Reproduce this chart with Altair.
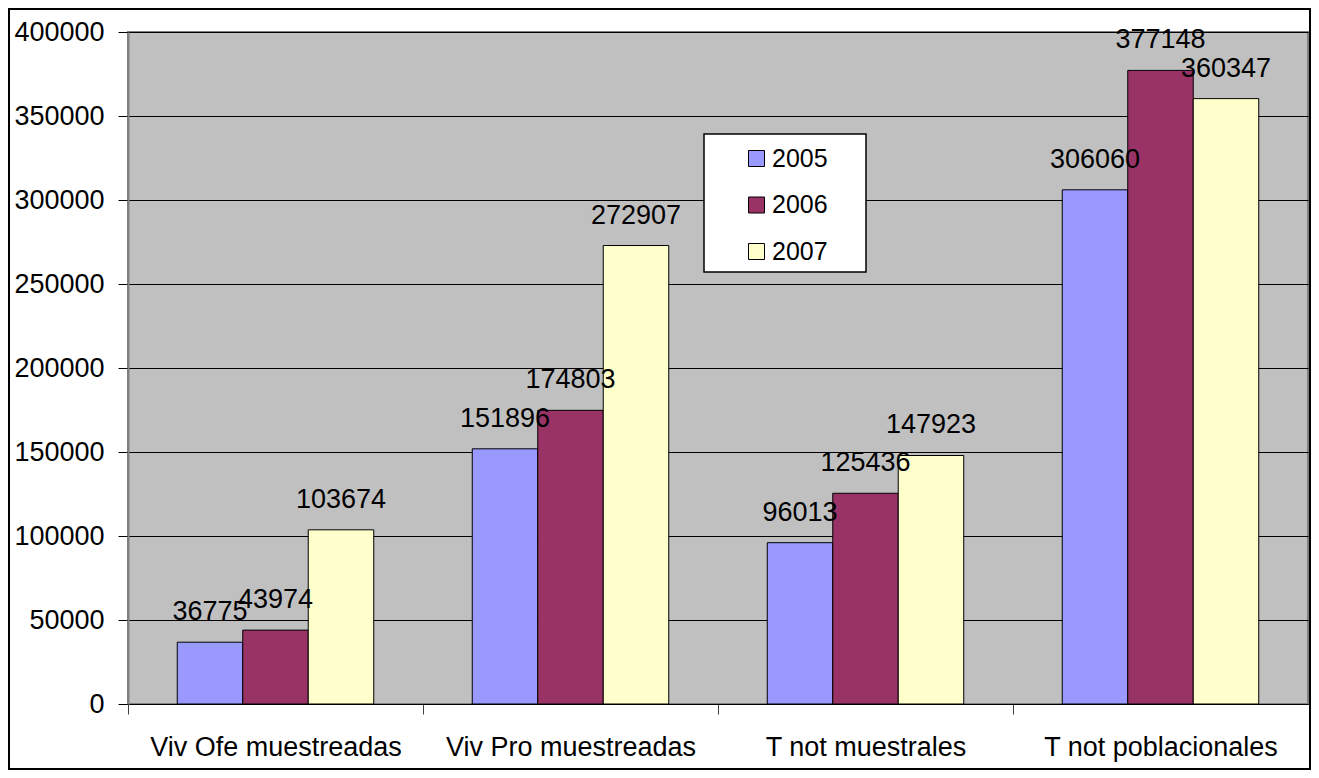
import altair as alt
import pandas as pd

categories = ["Viv Ofe muestreadas", "Viv Pro muestreadas", "T not muestrales", "T not poblacionales"]
years = ["2005", "2006", "2007"]
v2005 = [36775, 151896, 96013, 306060]
v2006 = [43974, 174803, 125436, 377148]
v2007 = [103674, 272907, 147923, 360347]
colors = ["#9999FF", "#993366", "#FFFFCC"]

rows = []
for i, c in enumerate(categories):
    for y, vals in zip(years, [v2005, v2006, v2007]):
        rows.append({"cat": c, "year": y, "value": vals[i]})
df = pd.DataFrame(rows)

FONT = "Liberation Sans"
W, H = 1180, 672
STEP = W / 4

base = alt.Chart(df).encode(
    x=alt.X("cat:N", sort=categories, title=None,
            scale=alt.Scale(paddingInner=0.334, paddingOuter=0.167),
            axis=alt.Axis(labelAngle=0, labelFontSize=27, labelFont=FONT, labelColor="black",
                          labelPadding=20, tickSize=10, tickColor="#404040", tickWidth=1,
                          tickOffset=-STEP / 2, labelOffset=STEP / 2, domainColor="black", domainWidth=1,
                          grid=False, labelLimit=400)),
    xOffset=alt.XOffset("year:N", sort=years, scale=alt.Scale(paddingInner=0, paddingOuter=0)),
    y=alt.Y("value:Q", title=None,
            scale=alt.Scale(domain=[0, 400000], nice=False),
            axis=alt.Axis(values=list(range(0, 400001, 50000)), format="d", labelFontSize=27,
                          labelFont=FONT, labelColor="black", tickSize=10, tickColor="black",
                          labelPadding=14, domainColor="#808080", domainWidth=2,
                          grid=True, gridColor="black", gridWidth=1)),
)

bars = base.mark_bar(stroke="black", strokeWidth=1).encode(
    color=alt.Color("year:N", sort=years, scale=alt.Scale(domain=years, range=colors),
                    legend=alt.Legend(title=None, orient="none", legendX=616, legendY=114,
                                      padding=0, symbolType="square", symbolSize=256,
                                      symbolStrokeColor="black", symbolStrokeWidth=1,
                                      labelFontSize=25, labelFont=FONT, labelColor="black",
                                      labelOffset=3, rowPadding=20.5))
)

text = base.mark_text(baseline="bottom", dy=-16, fontSize=27, font=FONT, color="black").encode(
    text=alt.Text("value:Q", format="d")
)

# decorative frames: outer chart border and legend box
border = alt.Chart(alt.Data(values=[{"a": 1}])).mark_rect(
    fill=None, stroke="black", strokeWidth=2
).encode(x=alt.value(-119), x2=alt.value(W + 2), y=alt.value(-23), y2=alt.value(H + 65))

legend_box = alt.Chart(alt.Data(values=[{"a": 1}])).mark_rect(
    fill="white", stroke="black", strokeWidth=1.5
).encode(x=alt.value(576), x2=alt.value(738), y=alt.value(102), y2=alt.value(240))

chart = alt.layer(border, bars, text, legend_box).properties(
    width=W, height=H,
    autosize=alt.AutoSizeParams(type="none"),
    padding={"left": 120, "top": 24, "right": 3, "bottom": 66},
    background="white",
).configure_view(fill="#C0C0C0", stroke="#808080", strokeWidth=2)

chart.save("out.html", embed_options={"renderer": "svg", "actions": False})
